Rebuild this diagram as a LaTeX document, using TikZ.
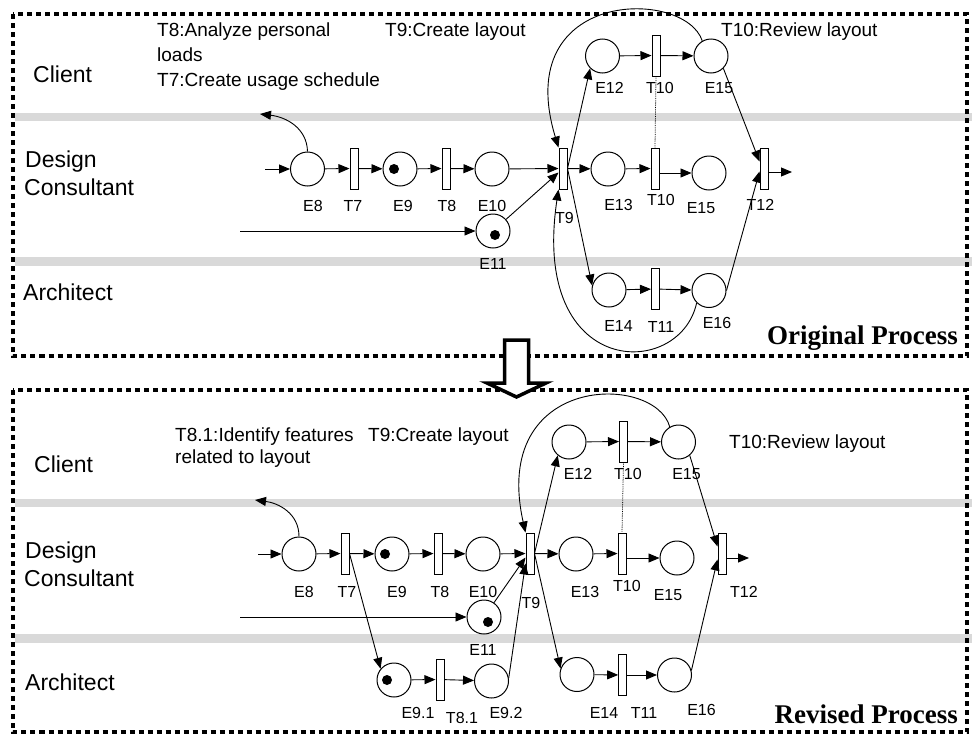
\documentclass[tikz,border=0pt]{standalone}
\usepackage{fontspec}
\setmainfont{Liberation Sans}
\newfontfamily\titlefont{Liberation Serif}
\usetikzlibrary{arrows.meta}

\begin{document}
\begin{tikzpicture}[x=1pt, y=-1pt,
    place/.style={circle, draw, line width=1pt, fill=white, minimum size=34pt, inner sep=0pt},
    trans/.style={rectangle, draw, line width=1pt, fill=white, minimum width=8pt, minimum height=41pt, inner sep=0pt},
    flow/.style={line width=0.9pt, -{Triangle[length=11pt, width=9pt]}},
    link/.style={line width=0.8pt, densely dotted},
    lane/.style={fill=black!15},
    frame/.style={line width=4pt, dash pattern=on 5pt off 4pt},
    role/.style={anchor=base west, inner sep=0pt, font=\fontsize{23}{28}\selectfont},
    note/.style={anchor=base west, inner sep=0pt, font=\fontsize{19}{22}\selectfont},
    elabel/.style={anchor=base, inner sep=0pt, font=\fontsize{16}{19}\selectfont},
    caption/.style={anchor=base east, inner sep=0pt, font=\titlefont\bfseries\fontsize{27}{30}\selectfont}]

    \useasboundingbox (0,0) rectangle (972,734);

    % swimlane separators and frames
    \fill[lane] (15,113) rectangle (972,121);
    \fill[lane] (15,257) rectangle (972,266);
    \fill[lane] (15,499) rectangle (972,507);
    \fill[lane] (15,634) rectangle (972,643);
    \draw[frame] (12.5,14) rectangle (967,356);
    \draw[frame] (12.5,390) rectangle (967,732);

    %%%%%%%%%%%%%%%% original process %%%%%%%%%%%%%%%%
    \node[role] (oclient) at (33,82) {Client};
    \node[role] (odesign) at (25,167) {Design};
    \node[role] (oconsult) at (24,195) {Consultant};
    \node[role] (oarch) at (23,300) {Architect};

    \node[note] (onote8) at (157,36) {T8:Analyze personal};
    \node[note] (onote8b) at (157,61) {loads};
    \node[note] (onote7) at (157,86) {T7:Create usage schedule};
    \node[note] (onote9) at (385,36) {T9:Create layout};
    \node[note] (onote10) at (721,36) {T10:Review layout};

    \node[place] (oE8) at (307.5,169) {};
    \node[trans] (oT7) at (354,168.5) {};
    \node[place] (oE9) at (400,169) {};
    \node[trans] (oT8) at (446,168.5) {};
    \node[place] (oE10) at (492,169) {};
    \node[trans] (oT9) at (563,168.5) {};
    \node[place] (oE11) at (493,231) {};
    \node[place] (oE13) at (608,169) {};
    \node[trans] (oT10b) at (655,168.5) {};
    \node[place] (oE15b) at (709,173) {};
    \node[trans] (oT12) at (764,168.5) {};
    \node[place] (oE12) at (602.5,56) {};
    \node[trans] (oT10a) at (656,55.5) {};
    \node[place] (oE15a) at (711,56) {};
    \node[place] (oE14) at (609,290) {};
    \node[trans] (oT11) at (655.5,289) {};
    \node[place] (oE16) at (709,290.5) {};

    \fill ([xshift=-6pt]oE9.center) circle (5pt);
    \fill ([xshift=2pt, yshift=-4pt]oE11.center) circle (5pt);

    \node[elabel] (oE8t) at (313,211) {E8};
    \node[elabel] (oT7t) at (353,211) {T7};
    \node[elabel] (oE9t) at (403,211) {E9};
    \node[elabel] (oT8t) at (447,211) {T8};
    \node[elabel] (oE10t) at (492,211) {E10};
    \node[elabel] (oT9t) at (564.5,223) {T9};
    \node[elabel] (oE11t) at (493,269) {E11};
    \node[elabel] (oE13t) at (618.5,210) {E13};
    \node[elabel] (oT10bt) at (661,205) {T10};
    \node[elabel] (oE15bt) at (701,213) {E15};
    \node[elabel] (oT12t) at (760.5,210) {T12};
    \node[elabel] (oE12t) at (609.5,93) {E12};
    \node[elabel] (oT10at) at (660,93) {T10};
    \node[elabel] (oE15at) at (719,93) {E15};
    \node[elabel] (oE14t) at (618.5,331) {E14};
    \node[elabel] (oT11t) at (661,332) {T11};
    \node[elabel] (oE16t) at (717,328) {E16};
    \node[caption] (ocap) at (958,344) {Original Process};

    \coordinate (oin8) at (265,169);
    \coordinate (oout8) at (260,114);
    \coordinate (oin11) at (240,231);
    \coordinate (oout12) at (792,172);

    \draw[flow] (oin8) -- (oE8);
    \draw[flow] (oE8.north) .. controls (307,128) and (286,117) .. (oout8);
    \draw[flow] (oE8) -- (oT7);
    \draw[flow] (oT7) -- (oE9);
    \draw[flow] (oE9) -- (oT8);
    \draw[flow] (oT8) -- (oE10);
    \draw[flow] (oE10) -- (oT9);
    \draw[flow] (oin11) -- (oE11);
    \draw[flow] (oE11) -- (oT9);
    \draw[flow] (oT9) -- (oE13);
    \draw[flow] (oE13) -- (oT10b);
    \draw[flow] (oT10b.east |- oE15b) -- (oE15b);
    \draw[flow] (oT12.east |- oout12) -- (oout12);
    \draw[flow] (oT9.east) -- (oE12.225);
    \draw[flow] (oE12) -- (oT10a);
    \draw[flow] (oT10a) -- (oE15a);
    \draw[link] (oT10a.south) -- (oT10b.north);
    \draw[flow] (oE15a.-45) -- ([yshift=7pt]oT12.west);
    \draw[flow] (oT9.east) -- (oE14.165);
    \draw[flow] (oE14) -- (oT11);
    \draw[flow] (oT11) -- (oE16);
    \draw[flow] (oE16.east) -- ([yshift=-3pt]oT12.west);
    \draw[flow] (oE15a.120) .. controls (685,-12) and (510,-12) .. (oT9.north west);
    \draw[flow] (oE16.225) .. controls (680,380) and (530,380) .. (oT9.south west);

    %%%%%%%%%%%%%%%% revised process %%%%%%%%%%%%%%%%
    \node[role] (rclient) at (34,472) {Client};
    \node[role] (rdesign) at (25,558) {Design};
    \node[role] (rconsult) at (24,586) {Consultant};
    \node[role] (rarch) at (25,690) {Architect};

    \node[note] (rnote81) at (175,441) {T8.1:Identify features};
    \node[note] (rnote81b) at (175,463) {related to layout};
    \node[note] (rnote9) at (368,441) {T9:Create layout};
    \node[note] (rnote10) at (729,448) {T10:Review layout};

    \node[place] (rE8) at (299,554) {};
    \node[trans] (rT7) at (345,553.5) {};
    \node[place] (rE9) at (392,554) {};
    \node[trans] (rT8) at (438,553.5) {};
    \node[place] (rE10) at (483,554) {};
    \node[trans] (rT9) at (530,553.5) {};
    \node[place] (rE11) at (484,617) {};
    \node[place] (rE13) at (576,554) {};
    \node[trans] (rT10b) at (622,553.5) {};
    \node[place] (rE15b) at (677,558) {};
    \node[trans] (rT12) at (722,553.5) {};
    \node[place] (rE12) at (569,442) {};
    \node[trans] (rT10a) at (623.5,441.5) {};
    \node[place] (rE15a) at (678.5,442) {};
    \node[place] (rE14) at (577,674.5) {};
    \node[trans] (rT11) at (622.7,675) {};
    \node[place] (rE16) at (674.5,675) {};
    \node[place] (rE91) at (394,680) {};
    \node[trans] (rT81) at (440,679.5) {};
    \node[place] (rE92) at (491.5,681) {};

    \fill ([xshift=-7pt]rE9.center) circle (5pt);
    \fill ([xshift=4pt, yshift=-5pt]rE11.center) circle (5pt);
    \fill ([xshift=-7pt]rE91.center) circle (5pt);

    \node[elabel] (rE8t) at (304,597) {E8};
    \node[elabel] (rT7t) at (347,597) {T7};
    \node[elabel] (rE9t) at (397,597) {E9};
    \node[elabel] (rT8t) at (440,597) {T8};
    \node[elabel] (rE10t) at (483,597) {E10};
    \node[elabel] (rT9t) at (531,608) {T9};
    \node[elabel] (rE11t) at (483,655) {E11};
    \node[elabel] (rE91t) at (418,718) {E9.1};
    \node[elabel] (rT81t) at (462,723) {T8.1};
    \node[elabel] (rE92t) at (506,718) {E9.2};
    \node[elabel] (rE13t) at (585,597) {E13};
    \node[elabel] (rT10bt) at (627,591) {T10};
    \node[elabel] (rE15bt) at (668,600) {E15};
    \node[elabel] (rT12t) at (744,597) {T12};
    \node[elabel] (rE12t) at (578,479) {E12};
    \node[elabel] (rT10at) at (628,479) {T10};
    \node[elabel] (rE15at) at (686.5,479) {E15};
    \node[elabel] (rE14t) at (604,718) {E14};
    \node[elabel] (rT11t) at (644,718) {T11};
    \node[elabel] (rE16t) at (701.5,715) {E16};
    \node[caption] (rcap) at (958,723) {Revised Process};

    \coordinate (rin8) at (258,554);
    \coordinate (rout8) at (255,500);
    \coordinate (rin11) at (240,617);
    \coordinate (rout12) at (749,558);

    \draw[flow] (rin8) -- (rE8);
    \draw[flow] (rE8.north) .. controls (299,513) and (278,503) .. (rout8);
    \draw[flow] (rE8) -- (rT7);
    \draw[flow] (rT7) -- (rE9);
    \draw[flow] (rE9) -- (rT8);
    \draw[flow] (rT8) -- (rE10);
    \draw[flow] (rE10) -- (rT9);
    \draw[flow] (rin11) -- (rE11);
    \draw[flow] (rE11) -- ([yshift=-4pt]rT9.west);
    \draw[flow] (rT7.east) -- (rE91.140);
    \draw[flow] (rE91) -- (rT81);
    \draw[flow] (rT81) -- (rE92);
    \draw[flow] (rE92.10) -- ([yshift=-10pt]rT9.west);
    \draw[flow] (rT9) -- (rE13);
    \draw[flow] (rE13) -- (rT10b);
    \draw[flow] (rT10b.east |- rE15b) -- (rE15b);
    \draw[flow] (rT12.east |- rout12) -- (rout12);
    \draw[flow] (rT9.east) -- (rE12.230);
    \draw[flow] (rE12) -- (rT10a);
    \draw[flow] (rT10a) -- (rE15a);
    \draw[link] (rT10a.south) -- (rT10b.north);
    \draw[flow] (rE15a.-50) -- ([yshift=7pt]rT12.west);
    \draw[flow] (rT9.east) -- (rE14.160);
    \draw[flow] (rE14) -- (rT11);
    \draw[flow] (rT11) -- (rE16);
    \draw[flow] (rE16.15) -- ([yshift=-6pt]rT12.west);
    \draw[flow] (rE15a.120) .. controls (655,373) and (490,373) .. (rT9.north west);

    % hollow arrow between the two processes
    \draw[line width=3.5pt, fill=white, line join=miter]
        (504.5,340) -- (528.5,340) -- (528.5,383) -- (546,383) -- (516.5,397)
        -- (487,383) -- (504.5,383) -- cycle;

\end{tikzpicture}
\end{document}
